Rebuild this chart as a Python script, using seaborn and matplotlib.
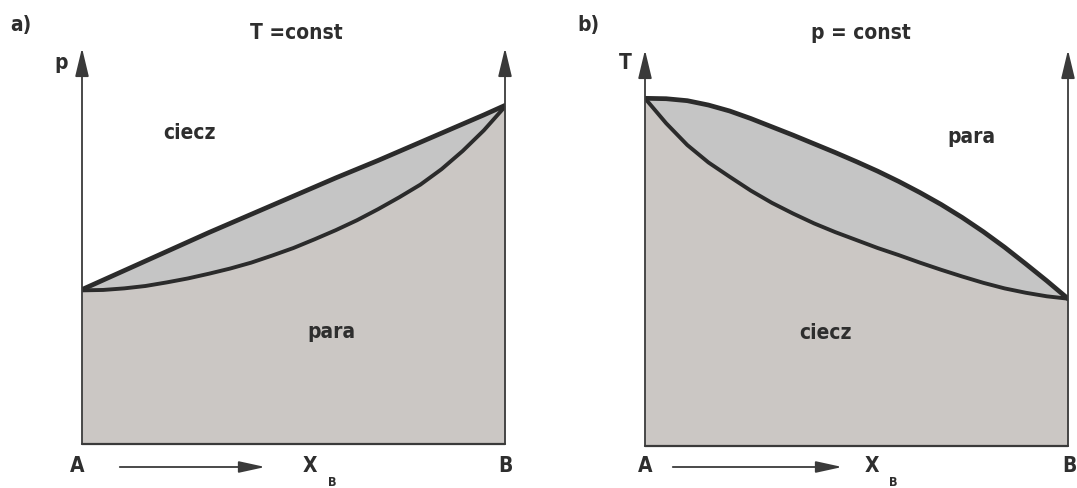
import matplotlib
matplotlib.use("Agg")
import matplotlib.pyplot as plt
import matplotlib.patches as mpatches
import seaborn as sns
import pandas as pd

sns.set_theme(style="white")
plt.rcParams["font.family"] = ["DejaVu Sans"]

# Composition grid (mole fraction of B)
x_b = [0.00, 0.05, 0.10, 0.15, 0.20, 0.25, 0.30, 0.35, 0.40, 0.45, 0.50,
       0.55, 0.60, 0.65, 0.70, 0.75, 0.80, 0.85, 0.90, 0.95, 1.00]

# a) T = const: pressure of liquid (bubble) line and vapour (dew) line
p_liquid = [0.390, 0.414, 0.438, 0.462, 0.486, 0.510, 0.534, 0.557, 0.580, 0.603, 0.626,
            0.649, 0.672, 0.694, 0.716, 0.739, 0.762, 0.785, 0.808, 0.831, 0.855]
p_vapour = [0.388, 0.389, 0.393, 0.399, 0.408, 0.418, 0.430, 0.443, 0.458, 0.476, 0.495,
            0.517, 0.540, 0.565, 0.593, 0.623, 0.655, 0.694, 0.740, 0.792, 0.852]

# b) p = const: temperature of vapour (dew) line and liquid (boiling) line
t_vapour = [0.878, 0.877, 0.872, 0.861, 0.846, 0.827, 0.806, 0.785, 0.763, 0.741, 0.718,
            0.694, 0.668, 0.640, 0.610, 0.577, 0.541, 0.502, 0.460, 0.417, 0.372]
t_liquid = [0.878, 0.815, 0.760, 0.716, 0.680, 0.645, 0.614, 0.587, 0.562, 0.540, 0.520,
            0.500, 0.482, 0.463, 0.445, 0.428, 0.412, 0.398, 0.387, 0.378, 0.372]

W, H = 1077, 488
fig = plt.figure(figsize=(W / 100, H / 100), dpi=100)
fig.patch.set_facecolor("white")

LENS = "#c5c5c5"
BASE = "#cbc7c4"
CURVE = "#2b2b2b"
AXC = "#3a3a3a"
TXT = "#2e2e2e"
font = dict(family="DejaVu Sans", fontstretch="condensed", weight="bold", color=TXT)
HEAD = "-|>,head_length=1.25,head_width=0.3"


def px_text(x, y, s, size=15, ha="center", va="center"):
    fig.text(x / W, 1 - y / H, s, fontsize=size, ha=ha, va=va, **font)


def panel(left_px, right_px, bottom_px, top_px, upper, lower, upper_lw, lower_lw):
    ax = fig.add_axes([left_px / W, 1 - bottom_px / H,
                       (right_px - left_px) / W, (bottom_px - top_px) / H])
    ax.set_xlim(0, 1)
    ax.set_ylim(0, 1)
    ax.axis("off")
    ax.fill_between(x_b, 0, lower, color=BASE, lw=0)
    ax.fill_between(x_b, lower, upper, color=LENS, lw=0)
    df = pd.DataFrame({"x": x_b, "upper": upper, "lower": lower})
    sns.lineplot(data=df, x="x", y="lower", ax=ax, color=CURVE, lw=lower_lw,
                 sort=False, solid_capstyle="round", solid_joinstyle="round")
    sns.lineplot(data=df, x="x", y="upper", ax=ax, color=CURVE, lw=upper_lw,
                 sort=False, solid_capstyle="round", solid_joinstyle="round")
    # frame: bottom edge and the two vertical composition axes with arrows
    ax.plot([0, 1], [0, 0], color=AXC, lw=1.6, clip_on=False)
    for xv in (0, 1):
        ax.annotate("", xy=(xv, 1.0), xytext=(xv, 0.0),
                    arrowprops=dict(arrowstyle=HEAD, color=AXC, lw=1.3,
                                    shrinkA=0, shrinkB=0, mutation_scale=14),
                    annotation_clip=False)
    return ax


def x_arrow(x0, x1, y):
    fig.add_artist(mpatches.FancyArrowPatch(
        (x0 / W, 1 - y / H), (x1 / W, 1 - y / H), transform=fig.transFigure,
        arrowstyle="-|>,head_length=1.6,head_width=0.35", mutation_scale=10,
        color=AXC, lw=1.3))


# ---- a) T = const
panel(82, 505, 444, 48, p_liquid, p_vapour, 3.4, 2.8)
px_text(10, 25, "a)", ha="left")
px_text(296, 33, "T =const")
px_text(61, 63, "p")
px_text(189, 133, "ciecz")
px_text(331, 332, "para")
px_text(77, 466, "A")
px_text(505, 466, "B")
px_text(310, 466, "X")
px_text(332, 482, "B", size=9)
x_arrow(117, 268, 467)

# ---- b) p = const
panel(645, 1068, 446, 50, t_vapour, t_liquid, 3.4, 2.8)
px_text(577, 25, "b)", ha="left")
px_text(861, 33, "p = const")
px_text(625, 63, "T")
px_text(971, 137, "para")
px_text(825, 333, "ciecz")
px_text(645, 466, "A")
px_text(1069, 466, "B")
px_text(872, 466, "X")
px_text(893, 482, "B", size=9)
x_arrow(670, 845, 467)

fig.savefig("out.png", dpi=100, facecolor="white")
